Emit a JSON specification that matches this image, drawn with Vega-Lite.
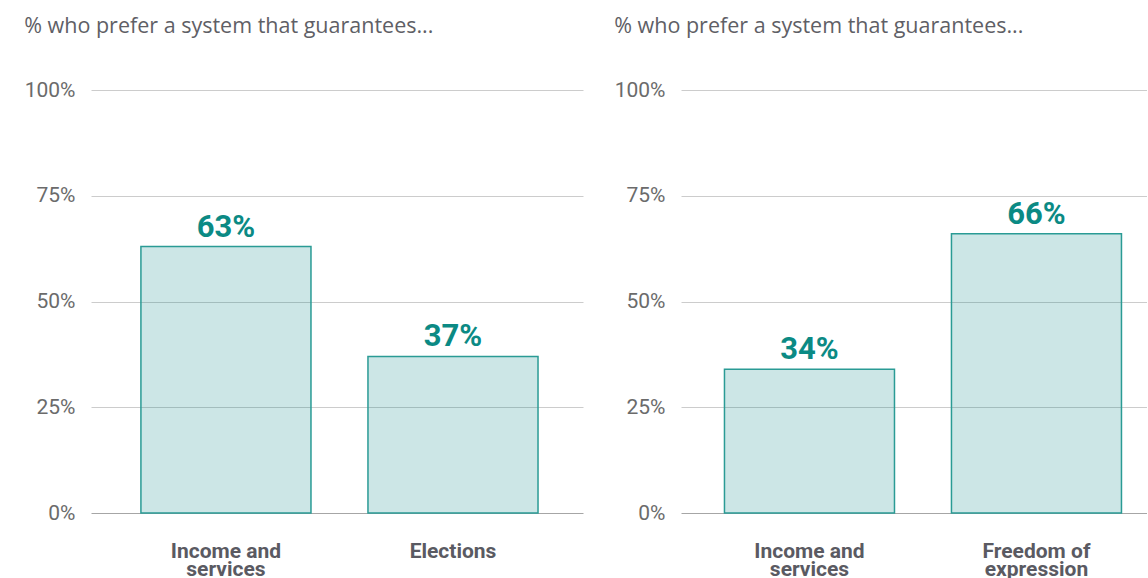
{
  "$schema": "https://vega.github.io/schema/vega-lite/v6.json",
  "padding": {"left": 24, "top": 15, "right": 0, "bottom": 0},
  "background": "white",
  "spacing": 31,
  "config": {
    "view": {"stroke": null},
    "title": {"font": "Open Sans", "fontSize": 21.5, "fontWeight": "normal", "color": "#5f5f66", "anchor": "start", "frame": "bounds", "offset": 42},
    "axis": {"labelFont": "Roboto", "domain": false, "ticks": false}
  },
  "datasets": {
    "left": [
      {"category": "Income and|services", "value": 0.63, "label": "63%"},
      {"category": "Elections", "value": 0.37, "label": "37%"}
    ],
    "right": [
      {"category": "Income and|services", "value": 0.34, "label": "34%"},
      {"category": "Freedom of|expression", "value": 0.66, "label": "66%"}
    ]
  },
  "hconcat": [
    {
      "width": 492,
      "height": 423,
      "title": "% who prefer a system that guarantees...",
      "data": {"name": "left"},
      "encoding": {
        "x": {"field": "category", "type": "nominal", "sort": null,
          "scale": {"paddingInner": 0.251, "paddingOuter": 0.209, "align": 0.526},
          "axis": {"title": null, "labelAngle": 0, "labelExpr": "split(datum.label, '|')", "labelFont": "Roboto", "labelFontSize": 21, "labelFontWeight": "bold", "labelColor": "#5a5a62", "labelPadding": 27, "labelLineHeight": 18, "labelBaseline": "top"}},
        "y": {"field": "value", "type": "quantitative",
          "scale": {"domain": [0, 1]},
          "axis": {"title": null, "values": [0, 0.25, 0.5, 0.75, 1], "format": ".0%", "labelFontSize": 21, "labelColor": "#6b6b6b", "labelPadding": 16,
            "gridColor": {"condition": {"test": "datum.value === 0", "value": "#a6a6a6"}, "value": "#cccccc"}, "gridWidth": 1}}
      },
      "layer": [
        {"mark": {"type": "bar", "fill": "#008080", "fillOpacity": 0.2, "stroke": "#2a9b95", "strokeWidth": 1.5}},
        {"mark": {"type": "text", "font": "Roboto", "fontSize": 31, "fontWeight": "bold", "color": "#0b8a84", "dy": -10, "baseline": "alphabetic"},
          "encoding": {"text": {"field": "label"}}}
      ]
    },
    {
      "width": 466,
      "height": 423,
      "title": "% who prefer a system that guarantees...",
      "data": {"name": "right"},
      "encoding": {
        "x": {"field": "category", "type": "nominal", "sort": null,
          "scale": {"paddingInner": 0.251, "paddingOuter": 0.152, "align": 0.63},
          "axis": {"title": null, "labelAngle": 0, "labelExpr": "split(datum.label, '|')", "labelFont": "Roboto", "labelFontSize": 21, "labelFontWeight": "bold", "labelColor": "#5a5a62", "labelPadding": 27, "labelLineHeight": 18, "labelBaseline": "top"}},
        "y": {"field": "value", "type": "quantitative",
          "scale": {"domain": [0, 1]},
          "axis": {"title": null, "values": [0, 0.25, 0.5, 0.75, 1], "format": ".0%", "labelFontSize": 21, "labelColor": "#6b6b6b", "labelPadding": 16,
            "gridColor": {"condition": {"test": "datum.value === 0", "value": "#a6a6a6"}, "value": "#cccccc"}, "gridWidth": 1}}
      },
      "layer": [
        {"mark": {"type": "bar", "fill": "#008080", "fillOpacity": 0.2, "stroke": "#2a9b95", "strokeWidth": 1.5}},
        {"mark": {"type": "text", "font": "Roboto", "fontSize": 31, "fontWeight": "bold", "color": "#0b8a84", "dy": -10, "baseline": "alphabetic"},
          "encoding": {"text": {"field": "label"}}}
      ]
    }
  ]
}
